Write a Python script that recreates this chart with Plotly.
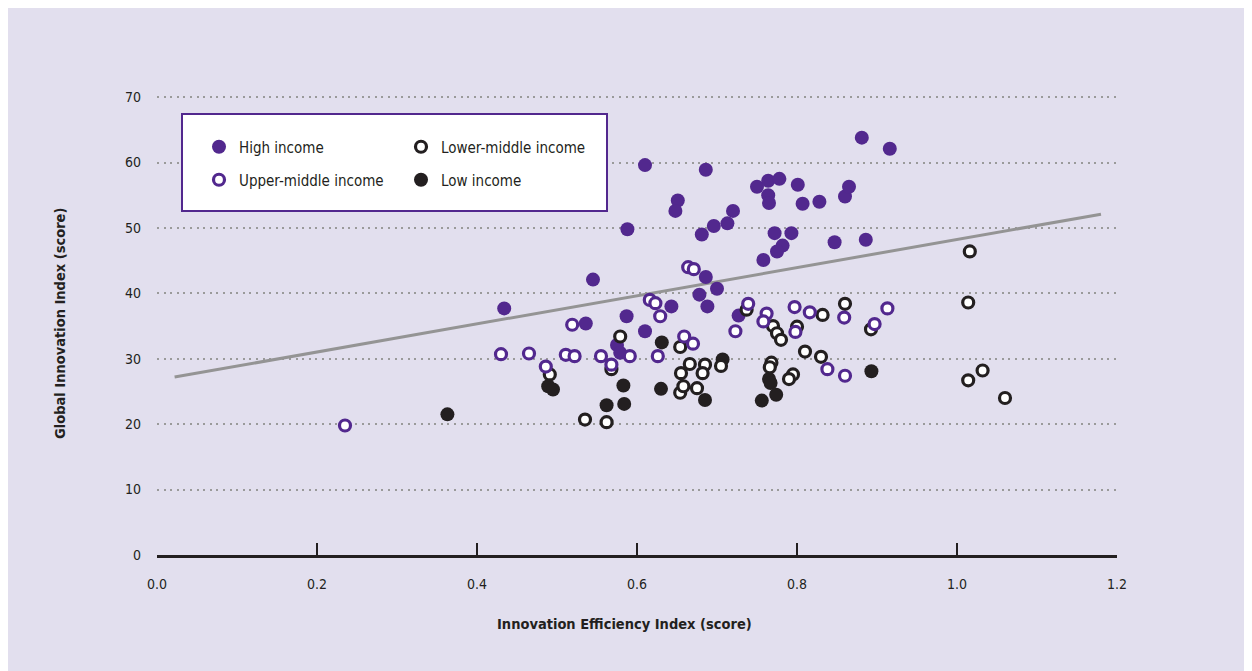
import plotly.graph_objects as go

# ---------------- data ----------------
high_x = [0.881, 0.916, 0.610, 0.686,
          0.750, 0.764, 0.778, 0.801, 0.764, 0.765, 0.807, 0.828, 0.860, 0.865,
          0.720, 0.713, 0.696, 0.681,
          0.772, 0.793, 0.782, 0.775, 0.758, 0.847, 0.886,
          0.651, 0.648, 0.588, 0.545,
          0.686, 0.700, 0.678, 0.688, 0.643, 0.587, 0.610, 0.727, 0.575, 0.579,
          0.434, 0.536]
high_y = [63.8, 62.1, 59.6, 58.9,
          56.3, 57.2, 57.5, 56.6, 55.0, 53.8, 53.7, 54.0, 54.8, 56.3,
          52.6, 50.7, 50.3, 49.0,
          49.2, 49.2, 47.3, 46.4, 45.1, 47.8, 48.2,
          54.2, 52.6, 49.8, 42.1,
          42.5, 40.7, 39.8, 38.0, 38.0, 36.5, 34.2, 36.6, 32.1, 30.9,
          37.7, 35.4]

upper_x = [0.235, 0.430, 0.465, 0.486, 0.511, 0.522, 0.519, 0.555, 0.568, 0.591,
           0.616, 0.623, 0.629, 0.626, 0.659, 0.670, 0.664, 0.671, 0.723, 0.739,
           0.762, 0.758, 0.797, 0.816, 0.798, 0.859, 0.913, 0.897, 0.838, 0.860]
upper_y = [19.8, 30.7, 30.8, 28.8, 30.6, 30.4, 35.2, 30.4, 29.1, 30.4,
           39.0, 38.5, 36.5, 30.4, 33.4, 32.3, 44.0, 43.7, 34.2, 38.4,
           36.9, 35.7, 37.9, 37.1, 34.1, 36.3, 37.7, 35.3, 28.4, 27.4]

lower_x = [0.579, 0.654, 0.491, 0.568, 0.535, 0.562, 0.666, 0.655, 0.654, 0.658,
           0.675, 0.685, 0.682, 0.705, 0.737, 0.770, 0.775, 0.780, 0.832, 0.800,
           0.860, 0.8925, 0.810, 0.830, 0.768, 0.766, 0.795, 0.790,
           1.016, 1.014, 1.014, 1.032, 1.060]
lower_y = [33.4, 31.8, 27.6, 28.4, 20.7, 20.3, 29.2, 27.8, 24.8, 25.8,
           25.5, 29.1, 27.8, 28.9, 37.5, 35.0, 33.9, 32.9, 36.7, 34.9,
           38.4, 34.5, 31.1, 30.3, 29.4, 28.7, 27.6, 26.9,
           46.4, 38.6, 26.7, 28.2, 24.0]

low_x = [0.363, 0.489, 0.495, 0.583, 0.562, 0.584, 0.631, 0.630, 0.707, 0.685,
         0.765, 0.767, 0.774, 0.756, 0.893]
low_y = [21.5, 25.8, 25.3, 25.9, 22.9, 23.1, 32.5, 25.4, 29.9, 23.7,
         26.9, 26.3, 24.5, 23.6, 28.1]

trend_x = [0.022, 1.18]
trend_y = [27.2, 52.1]

x_ticks = [0.0, 0.2, 0.4, 0.6, 0.8, 1.0, 1.2]
x_ticktext = ["0.0", "0.2", "0.4", "0.6", "0.8", "1.0", "1.2"]
y_ticks = [0, 10, 20, 30, 40, 50, 60, 70]

# ---------------- styling ----------------
PURPLE = "#52288e"
BLACK = "#231f20"
LAVENDER = "#e2dfee"
GREY_LINE = "#949494"
FONT = "DejaVu Sans Condensed, Liberation Sans Narrow, sans-serif"

OFF = 8  # page body margin
W, H = 1252, 671
L, T = 157 - OFF, 84 - OFF
R = W - (1117 - OFF)
B = H - (555 - OFF)
PW, PH = W - L - R, H - T - B


def px2paper_x(px):
    return (px - OFF - L) / PW


def px2paper_y(py):
    return (H - B - (py - OFF)) / PH


fig = go.Figure()

fig.add_trace(go.Scatter(
    x=trend_x, y=trend_y, mode="lines",
    line=dict(color=GREY_LINE, width=3), showlegend=False, hoverinfo="skip"))

fig.add_trace(go.Scatter(
    x=high_x, y=high_y, mode="markers", name="High income", legend="legend",
    marker=dict(size=14, color=PURPLE, line=dict(width=0))))
fig.add_trace(go.Scatter(
    x=low_x, y=low_y, mode="markers", name="Low income", legend="legend4",
    marker=dict(size=14, color=BLACK, line=dict(width=0))))
fig.add_trace(go.Scatter(
    x=lower_x, y=lower_y, mode="markers", name="Lower-middle income", legend="legend3",
    marker=dict(size=11, color="white", line=dict(width=3.2, color=BLACK))))
fig.add_trace(go.Scatter(
    x=upper_x, y=upper_y, mode="markers", name="Upper-middle income", legend="legend2",
    marker=dict(size=11, color="white", line=dict(width=3.2, color=PURPLE))))

legend_common = dict(bgcolor="rgba(0,0,0,0)", borderwidth=0,
                     font=dict(family=FONT, size=15, color=BLACK),
                     xanchor="left", yanchor="middle", orientation="v")

fig.update_layout(
    width=W, height=H,
    margin=dict(l=L, r=R, t=T, b=B, pad=0),
    paper_bgcolor=LAVENDER,
    plot_bgcolor="rgba(0,0,0,0)",
    font=dict(family=FONT, color=BLACK),
    legend=dict(x=px2paper_x(199), y=px2paper_y(147), **legend_common),
    legend2=dict(x=px2paper_x(199), y=px2paper_y(180), **legend_common),
    legend3=dict(x=px2paper_x(401), y=px2paper_y(147), **legend_common),
    legend4=dict(x=px2paper_x(401), y=px2paper_y(180), **legend_common),
    xaxis=dict(
        range=[0, 1.2], tickvals=x_ticks, ticktext=x_ticktext,
        showgrid=False, zeroline=False,
        showline=True, linecolor=BLACK, linewidth=3,
        ticks="inside", ticklen=12, tickwidth=2, tickcolor=BLACK,
        ticklabelstandoff=14,
        tickfont=dict(family=FONT, size=14, color=BLACK),
    ),
    yaxis=dict(
        range=[0, 72], tickvals=y_ticks,
        showgrid=True, gridcolor="#9a9a9a", gridwidth=2, griddash="2px,4.6px",
        zeroline=False, showline=False, ticks="",
        ticklabelstandoff=15,
        tickfont=dict(family=FONT, size=14, color=BLACK),
    ),
    shapes=[
        dict(type="rect", xref="paper", yref="paper", layer="above",
             x0=px2paper_x(182), x1=px2paper_x(607),
             y0=px2paper_y(211), y1=px2paper_y(114),
             fillcolor="white", line=dict(width=2, color=PURPLE)),
    ],
    annotations=[
        dict(text="<b>Innovation Efficiency Index (score)</b>", xref="paper", yref="paper",
             x=px2paper_x(624), y=px2paper_y(624), xanchor="center", yanchor="middle",
             showarrow=False, font=dict(family=FONT, size=14.5, color=BLACK)),
        dict(text="<b>Global Innovation Index (score)</b>", xref="paper", yref="paper",
             x=px2paper_x(60), y=px2paper_y(324), xanchor="center", yanchor="middle",
             textangle=-90, showarrow=False, font=dict(family=FONT, size=14.5, color=BLACK)),
    ],
)

fig.write_html("out.html")
